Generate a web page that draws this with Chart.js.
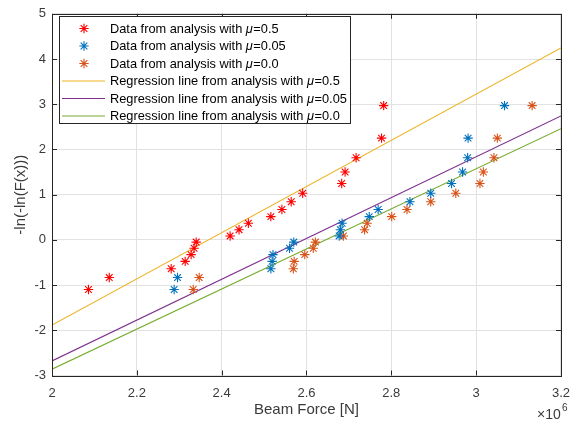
<!DOCTYPE html>
<html>
<head>
<meta charset="utf-8">
<script src="https://cdn.jsdelivr.net/npm/chart.js@4/dist/chart.umd.min.js"></script>
<style>
  html, body { margin: 0; padding: 0; background: #ffffff; }
  #wrap { width: 580px; height: 423px; }
</style>
</head>
<body>
<div id="wrap"><canvas id="c" width="580" height="423"></canvas></div>
<script>
// Weibull plotting positions -ln(-ln(F(x))), shared by the three sample sets (19 samples each)
const plotPositions = [-1.097, -0.834, -0.640, -0.476, -0.327, -0.186, -0.049, 0.087, 0.225, 0.367,
                       0.514, 0.672, 0.842, 1.031, 1.246, 1.500, 1.817, 2.250, 2.970];

// Sorted beam forces [N] for each friction coefficient
const forceMu050 = [2086000, 2135000, 2281000, 2314000, 2328000, 2335000, 2340000, 2420000, 2441000, 2463000,
                    2516000, 2542000, 2564000, 2591000, 2683000, 2691000, 2717000, 2777000, 2782000];
const forceMu005 = [2288000, 2296000, 2516000, 2519000, 2521000, 2560000, 2570000, 2677000, 2680000, 2684000,
                    2748000, 2769000, 2844000, 2893000, 2942000, 2968000, 2980000, 2981000, 3067000];
const forceMu000 = [2333000, 2347000, 2569000, 2571000, 2596000, 2616000, 2621000, 2687000, 2737000, 2743000,
                    2801000, 2837000, 2893000, 2952000, 3009000, 3017000, 3042000, 3050000, 3132000];

// Regression lines, evaluated at the ends of the force range
const regressionForce = [2000000, 3200000];
const regressionMu050 = [-1.885, 4.245];
const regressionMu005 = [-2.678, 2.740];
const regressionMu000 = [-2.861, 2.460];

const seriesLabels = [
  ['Data from analysis with ', 'μ', '=0.5'],
  ['Data from analysis with ', 'μ', '=0.05'],
  ['Data from analysis with ', 'μ', '=0.0'],
  ['Regression line from analysis with ', 'μ', '=0.5'],
  ['Regression line from analysis with ', 'μ', '=0.05'],
  ['Regression line from analysis with ', 'μ', '=0.0']
];

const AXIS_COLOR = '#262626';
const LABEL_COLOR = '#3a3a3a';
const FONT = '"Liberation Sans", Arial, Helvetica, sans-serif';
const MARKER_R = 4.7;

function points(xs, ys) { return xs.map((x, i) => ({ x: x, y: ys[i] })); }

function scatterSet(label, xs, color) {
  return {
    type: 'scatter', label: label, data: points(xs, plotPositions),
    pointStyle: 'star', pointRadius: MARKER_R, pointHoverRadius: MARKER_R,
    borderColor: color, backgroundColor: color, pointBorderWidth: 1.1, showLine: false
  };
}
function lineSet(label, ys, color) {
  return {
    type: 'line', label: label, data: points(regressionForce, ys),
    borderColor: color, borderWidth: 1.1, pointRadius: 0, fill: false, tension: 0
  };
}

// Frame with inward tick marks on all four sides, in-axes legend, and the ×10^6 exponent
const framePlugin = {
  id: 'frame',
  afterDraw(chart) {
    const ctx = chart.ctx;
    const a = chart.chartArea;
    const xs = chart.scales.x, ys = chart.scales.y;
    ctx.save();
    ctx.strokeStyle = AXIS_COLOR;
    ctx.lineWidth = 1;
    ctx.strokeRect(Math.round(a.left) + 0.5, Math.round(a.top) + 0.5,
                   Math.round(a.right - a.left), Math.round(a.bottom - a.top));
    const tl = 5;
    ctx.beginPath();
    xs.ticks.forEach(t => {
      const px = Math.round(xs.getPixelForValue(t.value)) + 0.5;
      ctx.moveTo(px, a.bottom); ctx.lineTo(px, a.bottom - tl);
      ctx.moveTo(px, a.top); ctx.lineTo(px, a.top + tl);
    });
    ys.ticks.forEach(t => {
      const py = Math.round(ys.getPixelForValue(t.value)) + 0.5;
      ctx.moveTo(a.left, py); ctx.lineTo(a.left + tl, py);
      ctx.moveTo(a.right, py); ctx.lineTo(a.right - tl, py);
    });
    ctx.stroke();

    // legend box
    const lx = 59.5, ly = 16.5, lw = 291, lh = 107;
    ctx.fillStyle = '#ffffff';
    ctx.fillRect(lx, ly, lw, lh);
    ctx.strokeStyle = AXIS_COLOR;
    ctx.strokeRect(lx, ly, lw, lh);
    const rowY0 = 28.5, rowStep = 17.5, textX = 110;
    chart.data.datasets.forEach((ds, i) => {
      const y = rowY0 + i * rowStep;
      ctx.strokeStyle = ds.borderColor;
      ctx.lineWidth = 1.1;
      ctx.beginPath();
      if (ds.type === 'scatter') {
        const cx = 84, r = MARKER_R, d = r * Math.SQRT1_2;
        ctx.moveTo(cx, y - r); ctx.lineTo(cx, y + r);
        ctx.moveTo(cx - r, y); ctx.lineTo(cx + r, y);
        ctx.moveTo(cx - d, y - d); ctx.lineTo(cx + d, y + d);
        ctx.moveTo(cx - d, y + d); ctx.lineTo(cx + d, y - d);
      } else {
        ctx.moveTo(62, y); ctx.lineTo(105, y);
      }
      ctx.stroke();
      const parts = seriesLabels[i];
      ctx.fillStyle = '#000000';
      ctx.textBaseline = 'middle';
      ctx.textAlign = 'left';
      let x = textX;
      ctx.font = '12.8px ' + FONT;
      ctx.fillText(parts[0], x, y + 0.5); x += ctx.measureText(parts[0]).width;
      ctx.font = 'italic 12.8px ' + FONT;
      ctx.fillText(parts[1], x, y + 0.5); x += ctx.measureText(parts[1]).width + 0.5;
      ctx.font = '12.8px ' + FONT;
      ctx.fillText(parts[2], x, y + 0.5);
    });

    // exponent of the force axis
    ctx.fillStyle = LABEL_COLOR;
    ctx.textBaseline = 'alphabetic';
    ctx.textAlign = 'left';
    ctx.font = '14px ' + FONT;
    ctx.fillText('×10', 537, 419);
    ctx.font = '10px ' + FONT;
    ctx.fillText('6', 562, 411);
    ctx.restore();
  }
};

new Chart(document.getElementById('c'), {
  data: {
    datasets: [
      scatterSet('Data from analysis with μ=0.5', forceMu050, '#FF0000'),
      scatterSet('Data from analysis with μ=0.05', forceMu005, '#0072BD'),
      scatterSet('Data from analysis with μ=0.0', forceMu000, '#D95319'),
      lineSet('Regression line from analysis with μ=0.5', regressionMu050, '#EDB120'),
      lineSet('Regression line from analysis with μ=0.05', regressionMu005, '#7E2F8E'),
      lineSet('Regression line from analysis with μ=0.0', regressionMu000, '#77AC30')
    ]
  },
  options: {
    responsive: false,
    devicePixelRatio: 1,
    animation: false,
    layout: { padding: { top: 12.5, right: 12, left: 0, bottom: 0 } },
    plugins: { legend: { display: false }, tooltip: { enabled: false } },
    scales: {
      x: {
        type: 'linear', min: 2000000, max: 3200000,
        afterFit(s) { s.height = 47.5; },
        ticks: {
          stepSize: 200000, padding: 10, color: LABEL_COLOR,
          font: { family: FONT, size: 13 },
          callback: v => String(v / 1000000)
        },
        grid: { color: '#e2e2e2', lineWidth: 1, drawTicks: false },
        border: { display: false },
        title: { display: true, text: 'Beam Force [N]', color: LABEL_COLOR,
                 font: { family: FONT, size: 15 }, padding: { top: 0, bottom: 4 } }
      },
      y: {
        type: 'linear', min: -3, max: 5,
        afterFit(s) { s.width = 52; },
        ticks: { stepSize: 1, padding: 6, color: LABEL_COLOR, font: { family: FONT, size: 13 } },
        grid: { color: '#e2e2e2', lineWidth: 1, drawTicks: false },
        border: { display: false },
        title: { display: true, text: '-ln(-ln(F(x)))', color: LABEL_COLOR,
                 font: { family: FONT, size: 15 }, padding: { top: 12, bottom: 0 } }
      }
    }
  },
  plugins: [framePlugin]
});
</script>
</body>
</html>
